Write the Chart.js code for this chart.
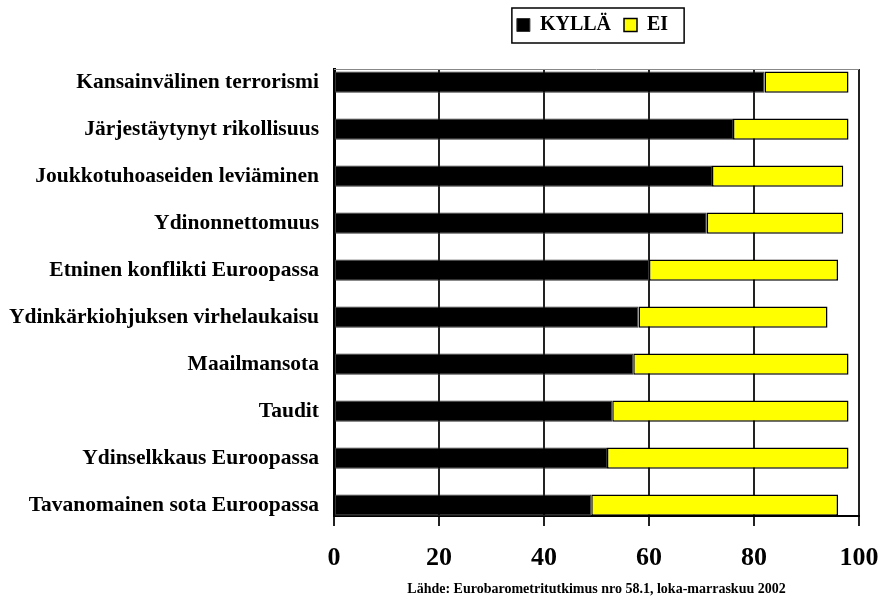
<!DOCTYPE html>
<html>
<head>
<meta charset="utf-8">
<script src="https://cdn.jsdelivr.net/npm/chart.js@4.4.1/dist/chart.umd.min.js"></script>
<style>
  html, body { margin: 0; padding: 0; background: #fff; }
  #wrap { width: 887px; height: 601px; }
</style>
</head>
<body>
<div id="wrap"><canvas id="chart" width="887" height="601"></canvas></div>
<script>
// values (percent)
const categories = [
    'Kansainvälinen terrorismi',
    'Järjestäytynyt rikollisuus',
    'Joukkotuhoaseiden leviäminen',
    'Ydinonnettomuus',
    'Etninen konflikti Euroopassa',
    'Ydinkärkiohjuksen virhelaukaisu',
    'Maailmansota',
    'Taudit',
    'Ydinselkkaus Euroopassa',
    'Tavanomainen sota Euroopassa'
];
const kylla = [82, 76, 72, 71, 60, 58, 57, 53, 52, 49];
const ei = [16, 22, 25, 26, 36, 36, 41, 45, 46, 47];
const xTicks = [0, 20, 40, 60, 80, 100];
const source = 'Lähde: Eurobarometritutkimus nro 58.1, loka-marraskuu 2002';

const serif = '"Liberation Serif", "Times New Roman", serif';

// move the legend up to the top edge, then draw the top plot line and the legend frame
const framePlugin = {
    id: 'frame',
    afterLayout(chart) {
        const l = chart.legend;
        if (!l) return;
        const dy = l.top - 2;
        l.top -= dy;
        l.bottom -= dy;
        l.left -= 4;
        l.right -= 4;
    },
    afterDraw(chart) {
        const ctx = chart.ctx;
        const a = chart.chartArea;
        ctx.save();
        ctx.strokeStyle = '#888';
        ctx.lineWidth = 1;
        ctx.beginPath();
        ctx.moveTo(a.left, a.top + 0.5);
        ctx.lineTo(a.right, a.top + 0.5);
        ctx.stroke();

        const boxes = chart.legend.legendHitBoxes;
        if (boxes && boxes.length) {
            const left = Math.min(...boxes.map(b => b.left)) - 5;
            const right = Math.max(...boxes.map(b => b.left + b.width)) + 16;
            const top = boxes[0].top - 7;
            const bottom = boxes[0].top + boxes[0].height + 8;
            ctx.strokeStyle = '#000';
            ctx.lineWidth = 1.5;
            ctx.strokeRect(left, top, right - left, bottom - top);
        }
        ctx.restore();
    }
};

const ctx = document.getElementById('chart').getContext('2d');
new Chart(ctx, {
    type: 'bar',
    data: {
        datasets: [{
            label: 'KYLLÄ',
            data: kylla.map((v, i) => ({ x: v, y: i })),
            backgroundColor: '#000',
            borderColor: '#333',
            borderWidth: 1,
            borderSkipped: false
        }, {
            label: 'EI',
            data: ei.map((v, i) => ({ x: v, y: i })),
            backgroundColor: '#ffff00',
            borderColor: '#000',
            borderWidth: 1.5,
            borderSkipped: false
        }]
    },
    options: {
        indexAxis: 'y',
        responsive: false,
        animation: false,
        categoryPercentage: 0.9,
        barPercentage: 0.5,
        layout: { padding: { top: 0, right: 28, bottom: 0, left: 0 } },
        plugins: {
            tooltip: { enabled: false },
            legend: {
                position: 'top',
                fullSize: false,
                labels: {
                    color: '#000',
                    font: { family: serif, size: 20, weight: 'bold' },
                    boxWidth: 13,
                    boxHeight: 13,
                    padding: 13
                }
            }
        },
        scales: {
            x: {
                type: 'linear',
                stacked: true,
                min: 0,
                max: 100,
                afterBuildTicks: s => { s.ticks = xTicks.map(v => ({ value: v })); },
                afterFit: s => { s.height = 85; s.paddingLeft = 0; s.paddingRight = 0; },
                grid: { color: '#222', lineWidth: 2, tickLength: 10, drawOnChartArea: true },
                border: { color: '#000', width: 2 },
                ticks: {
                    color: '#000',
                    padding: 17,
                    font: { family: serif, size: 26, weight: 'bold' }
                },
                title: {
                    display: true,
                    text: source,
                    color: '#000',
                    font: { family: serif, size: 14, weight: 'bold' },
                    padding: { top: 0, bottom: 3 }
                }
            },
            y: {
                type: 'linear',
                stacked: true,
                reverse: true,
                offset: false,
                min: -0.28,
                max: 9.23,
                afterBuildTicks: s => { s.ticks = categories.map((c, i) => ({ value: i })); },
                afterFit: s => { s.width = 334; s.paddingTop = 69; s.paddingBottom = 0; },
                grid: { display: false, drawTicks: false },
                border: { color: '#000', width: 3 },
                ticks: {
                    autoSkip: false,
                    color: '#000',
                    padding: 15,
                    font: { family: serif, size: 21.5, weight: 'bold' },
                    callback: v => categories[v]
                }
            }
        }
    },
    plugins: [framePlugin]
});
</script>
</body>
</html>
